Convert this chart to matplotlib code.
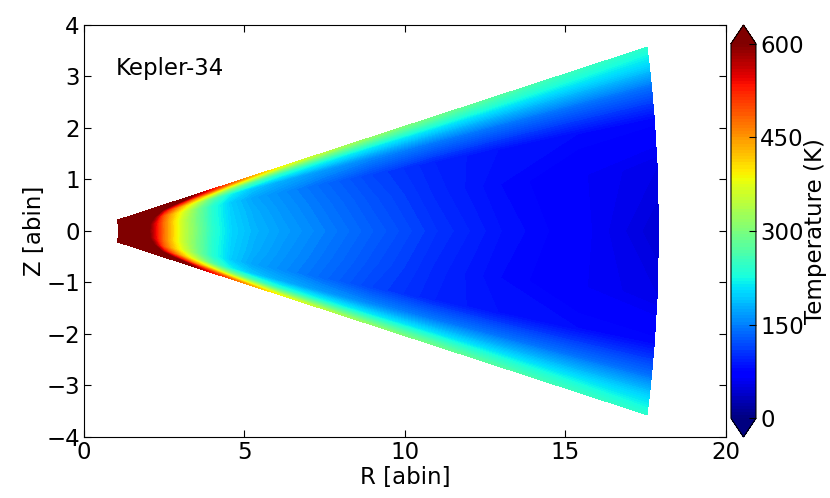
"""
Kepler-34 - mapa de temperatura del disco (R, Z)
"""

import matplotlib
matplotlib.use('Agg')
import matplotlib.pyplot as plt
import numpy as np

# radio esferico [abin] y angulo sobre el plano medio [grados]
radios = [1.07, 1.5, 1.9, 2.2, 2.5, 2.8, 3.1, 3.5, 4.0, 4.6, 5.3, 6.2, 7.5, 9.0, 11.0, 13.0, 15.5, 17.9]
angulos = [0.0, 4.0, 7.0, 9.0, 10.3, 11.0, 11.5]

temp_0 = [900, 850, 640, 550, 470, 405, 350, 300, 240, 200, 182, 168, 150, 130, 105, 85, 68, 45]
temp_4 = [900, 850, 650, 555, 470, 405, 350, 297, 237, 197, 178, 162, 143, 122, 98, 80, 66, 55]
temp_7 = [900, 850, 700, 600, 490, 425, 370, 305, 240, 195, 172, 157, 137, 115, 95, 85, 80, 78]
temp_9 = [900, 850, 800, 700, 560, 490, 430, 360, 280, 222, 192, 178, 165, 155, 148, 145, 142, 140]
temp_10 = [900, 850, 850, 780, 650, 590, 540, 460, 395, 320, 270, 238, 225, 215, 210, 205, 200, 198]
temp_11 = [900, 850, 880, 820, 720, 670, 620, 550, 490, 420, 365, 315, 290, 272, 258, 245, 232, 222]
temp_sup = [900, 850, 900, 850, 750, 700, 650, 590, 540, 490, 435, 385, 345, 315, 290, 270, 252, 240]

cbar_ticks = [0, 150, 300, 450, 600]

plt.rcParams['font.family'] = 'DejaVu Sans'
plt.rcParams['font.size'] = 16.5

# malla simetrica respecto al plano medio
mitad = np.array([temp_0, temp_4, temp_7, temp_9, temp_10, temp_11, temp_sup], dtype=float)
th = np.array(angulos)
theta = np.concatenate([-th[::-1], th[1:]])
T = np.vstack([mitad[::-1], mitad[1:]])

r_m, th_m = np.meshgrid(np.array(radios), np.radians(theta))
R = r_m * np.cos(th_m)
Z = r_m * np.sin(th_m)

fig = plt.figure(figsize=(8.3, 4.98), dpi=100)
ax = fig.add_axes([0.1012, 0.1225, 0.7735, 0.8273])
cax = fig.add_axes([0.8807, 0.1225, 0.0301, 0.8273])

cs = ax.contourf(R, Z, T, levels=np.arange(0, 605, 5), cmap='jet', extend='both')

ax.set_xlim(0, 20)
ax.set_ylim(-4, 4)
ax.set_xticks([0, 5, 10, 15, 20])
ax.set_yticks(range(-4, 5))
ax.tick_params(direction='in', top=True, right=True, length=5, labelsize=16.5, pad=3)
ax.set_xlabel('R [abin]', fontsize=16.5, labelpad=1)
ax.set_ylabel('Z [abin]', fontsize=16.5, labelpad=0)
ax.text(1.0, 3.15, 'Kepler-34', fontsize=16.5, va='center', ha='left')

cb = fig.colorbar(cs, cax=cax, ticks=cbar_ticks)
cb.ax.tick_params(direction='in', length=5, labelsize=16.5, pad=3)
cb.set_label('Temperature (K)', fontsize=16.5, labelpad=0)

fig.savefig('out.png', dpi=100)
